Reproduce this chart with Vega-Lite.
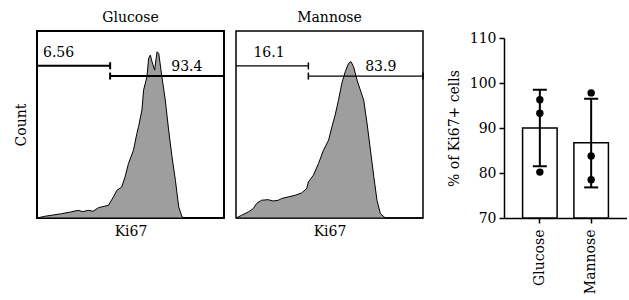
{
  "$schema": "https://vega.github.io/schema/vega-lite/v6.json",
  "padding": {"left": 13, "top": 10, "right": 0, "bottom": 0},
  "config": {
    "font": "DejaVu Serif",
    "title": {"fontSize": 14, "fontWeight": "normal", "offset": 6, "color": "black"},
    "axis": {"titleFontWeight": "normal", "titleColor": "black", "labelColor": "black", "grid": false, "labelFontSize": 14, "titleFontSize": 14}
  },
  "datasets": {
    "glc": [
      {"x": 0, "y": 0}, {"x": 4.1, "y": 0.9}, {"x": 13.1, "y": 2.3}, {"x": 18, "y": 3.2}, {"x": 22.0, "y": 4.1}, {"x": 24.5, "y": 3.4}, {"x": 27.4, "y": 4.1}, {"x": 30, "y": 3.6}, {"x": 32.8, "y": 5.5}, {"x": 38.2, "y": 6.8},
      {"x": 40.9, "y": 11.3}, {"x": 42.7, "y": 14.8}, {"x": 45.3, "y": 16.6}, {"x": 47.1, "y": 22.0}, {"x": 48.9, "y": 29.1}, {"x": 51.6, "y": 36.3}, {"x": 53.4, "y": 45.2},
      {"x": 54.3, "y": 48.8}, {"x": 56.1, "y": 57.7}, {"x": 57.0, "y": 68.4}, {"x": 58.8, "y": 75.5}, {"x": 59.7, "y": 85.4}, {"x": 60.6, "y": 87.1}, {"x": 61.5, "y": 83.6},
      {"x": 62.9, "y": 79.1}, {"x": 64.2, "y": 88.9}, {"x": 65.1, "y": 88.0}, {"x": 66.8, "y": 75.5}, {"x": 68.6, "y": 63.0}, {"x": 70.4, "y": 47.0}, {"x": 72.2, "y": 32.7},
      {"x": 74.0, "y": 20.2}, {"x": 75.8, "y": 5.9}, {"x": 77.6, "y": 0.5}, {"x": 79.4, "y": 0}, {"x": 100, "y": 0}
    ],
    "man": [
      {"x": 0, "y": 0}, {"x": 2.9, "y": 1.4}, {"x": 6.5, "y": 3.2}, {"x": 9.2, "y": 5.0}, {"x": 11.0, "y": 7.7}, {"x": 13.6, "y": 9.5}, {"x": 17.2, "y": 9.8}, {"x": 19.9, "y": 9.1},
      {"x": 22.6, "y": 9.5}, {"x": 24.4, "y": 10.4}, {"x": 28.0, "y": 11.3}, {"x": 31.5, "y": 12.1}, {"x": 35.1, "y": 13.4}, {"x": 37.8, "y": 15.7}, {"x": 38.7, "y": 19.3},
      {"x": 41.4, "y": 22.9}, {"x": 44.1, "y": 29.1}, {"x": 46.8, "y": 36.3}, {"x": 49.5, "y": 41.6}, {"x": 51.3, "y": 48.8}, {"x": 53.0, "y": 55.0}, {"x": 54.8, "y": 63.0},
      {"x": 56.6, "y": 72.0}, {"x": 58.4, "y": 78.2}, {"x": 60.2, "y": 82.7}, {"x": 61.5, "y": 83.6}, {"x": 62.9, "y": 80.9}, {"x": 64.7, "y": 73.8}, {"x": 66.5, "y": 68.4},
      {"x": 68.3, "y": 63.0}, {"x": 70.1, "y": 50.5}, {"x": 71.9, "y": 36.3}, {"x": 73.7, "y": 22.0}, {"x": 75.4, "y": 9.5}, {"x": 77.2, "y": 2.3}, {"x": 79.9, "y": 0}, {"x": 100, "y": 0}
    ],
    "glcGates": [
      {"x": 0, "x2": 39.1, "y": 81.4},
      {"x": 39.1, "x2": 100, "y": 75.9}
    ],
    "glcEnds": [
      {"x": 39.1, "y": 81.4}, {"x": 39.1, "y": 75.9}, {"x": 100, "y": 75.9}
    ],
    "glcLabels": [
      {"x": 3.2, "y": 86, "label": "6.56"},
      {"x": 71.8, "y": 78.6, "label": "93.4"}
    ],
    "manGates": [
      {"x": 0, "x2": 38.7, "y": 81.3},
      {"x": 38.7, "x2": 100, "y": 75.9}
    ],
    "manEnds": [
      {"x": 38.7, "y": 81.3}, {"x": 38.7, "y": 75.9}, {"x": 100, "y": 75.9}
    ],
    "manLabels": [
      {"x": 9.3, "y": 86, "label": "16.1"},
      {"x": 69.1, "y": 78.6, "label": "83.9"}
    ],
    "bars": [
      {"sugar": "Glucose", "mean": 90.0, "low": 81.5, "high": 98.5},
      {"sugar": "Mannose", "mean": 86.7, "low": 76.8, "high": 96.5}
    ],
    "pts": [
      {"sugar": "Glucose", "value": 96.3},
      {"sugar": "Glucose", "value": 93.3},
      {"sugar": "Glucose", "value": 80.2},
      {"sugar": "Mannose", "value": 97.8},
      {"sugar": "Mannose", "value": 83.8},
      {"sugar": "Mannose", "value": 78.5}
    ]
  },
  "spacing": 21,
  "hconcat": [
    {
      "spacing": 6,
      "hconcat": [
        {
          "title": "Glucose",
          "width": 187, "height": 187,
          "view": {"stroke": "black", "strokeWidth": 2},
          "layer": [
            {
              "data": {"name": "glc"},
              "mark": {"type": "area", "color": "#9e9e9e", "stroke": "black", "strokeWidth": 1},
              "encoding": {
                "x": {"field": "x", "type": "quantitative", "scale": {"domain": [0, 100], "nice": false}, "axis": {"title": "Ki67", "labels": false, "ticks": false, "domain": false, "titlePadding": 6}},
                "y": {"field": "y", "type": "quantitative", "scale": {"domain": [0, 100], "nice": false}, "axis": {"title": "Count", "labels": false, "ticks": false, "domain": false, "titlePadding": 9}}
              }
            },
            {
              "data": {"name": "glcGates"},
              "mark": {"type": "rule", "color": "black", "strokeWidth": 2},
              "encoding": {"x": {"field": "x", "type": "quantitative"}, "x2": {"field": "x2"}, "y": {"field": "y", "type": "quantitative"}}
            },
            {
              "data": {"name": "glcEnds"},
              "mark": {"type": "tick", "orient": "vertical", "color": "black", "size": 7, "thickness": 2, "opacity": 1},
              "encoding": {"x": {"field": "x", "type": "quantitative"}, "y": {"field": "y", "type": "quantitative"}}
            },
            {
              "data": {"name": "glcLabels"},
              "mark": {"type": "text", "align": "left", "baseline": "alphabetic", "fontSize": 14, "color": "black"},
              "encoding": {"x": {"field": "x", "type": "quantitative"}, "y": {"field": "y", "type": "quantitative"}, "text": {"field": "label"}}
            }
          ]
        },
        {
          "title": "Mannose",
          "width": 187, "height": 187,
          "view": {"stroke": "black", "strokeWidth": 1.5},
          "layer": [
            {
              "data": {"name": "man"},
              "mark": {"type": "area", "color": "#9e9e9e", "stroke": "black", "strokeWidth": 1},
              "encoding": {
                "x": {"field": "x", "type": "quantitative", "scale": {"domain": [0, 100], "nice": false}, "axis": {"title": "Ki67", "labels": false, "ticks": false, "domain": false, "titlePadding": 6}},
                "y": {"field": "y", "type": "quantitative", "scale": {"domain": [0, 100], "nice": false}, "axis": null}
              }
            },
            {
              "data": {"name": "manGates"},
              "mark": {"type": "rule", "color": "black", "strokeWidth": 1.2},
              "encoding": {"x": {"field": "x", "type": "quantitative"}, "x2": {"field": "x2"}, "y": {"field": "y", "type": "quantitative"}}
            },
            {
              "data": {"name": "manEnds"},
              "mark": {"type": "tick", "orient": "vertical", "color": "black", "size": 7, "thickness": 1.5, "opacity": 1},
              "encoding": {"x": {"field": "x", "type": "quantitative"}, "y": {"field": "y", "type": "quantitative"}}
            },
            {
              "data": {"name": "manLabels"},
              "mark": {"type": "text", "align": "left", "baseline": "alphabetic", "fontSize": 14, "color": "black"},
              "encoding": {"x": {"field": "x", "type": "quantitative"}, "y": {"field": "y", "type": "quantitative"}, "text": {"field": "label"}}
            }
          ]
        }
      ]
    },
    {
      "width": 123, "height": 187,
      "view": {"stroke": null},
      "encoding": {
        "x": {"field": "sugar", "type": "nominal", "scale": {"paddingInner": 0.327, "paddingOuter": 0.362, "align": 0.5},
              "axis": {"title": null, "labelAngle": -90, "labelAlign": "right", "labelBaseline": "middle", "labelPadding": 6, "tickSize": 5, "tickWidth": 1.5, "tickColor": "black", "domainColor": "black", "domainWidth": 1.5}}
      },
      "layer": [
        {
          "data": {"name": "bars"},
          "mark": {"type": "bar", "fill": "white", "stroke": "black", "strokeWidth": 1.5},
          "encoding": {
            "y": {"field": "mean", "type": "quantitative", "scale": {"domain": [70, 110], "nice": false, "zero": false, "range": [187, 7]},
                  "axis": {"title": "% of Ki67+ cells", "titleFontSize": 14, "titlePadding": 8, "values": [70, 80, 90, 100, 110], "tickSize": 5, "tickWidth": 1.5, "tickColor": "black", "domainColor": "black", "domainWidth": 1.5, "labelPadding": 3}},
            "y2": {"datum": 70}
          }
        },
        {
          "data": {"name": "bars"},
          "mark": {"type": "rule", "color": "black", "strokeWidth": 2},
          "encoding": {"y": {"field": "low", "type": "quantitative"}, "y2": {"field": "high"}}
        },
        {
          "data": {"name": "bars"},
          "mark": {"type": "tick", "orient": "horizontal", "color": "black", "size": 14, "thickness": 2, "opacity": 1},
          "encoding": {"y": {"field": "low", "type": "quantitative"}}
        },
        {
          "data": {"name": "bars"},
          "mark": {"type": "tick", "orient": "horizontal", "color": "black", "size": 14, "thickness": 2, "opacity": 1},
          "encoding": {"y": {"field": "high", "type": "quantitative"}}
        },
        {
          "data": {"name": "pts"},
          "mark": {"type": "circle", "color": "black", "size": 55, "opacity": 1},
          "encoding": {"y": {"field": "value", "type": "quantitative"}}
        }
      ]
    }
  ]
}
